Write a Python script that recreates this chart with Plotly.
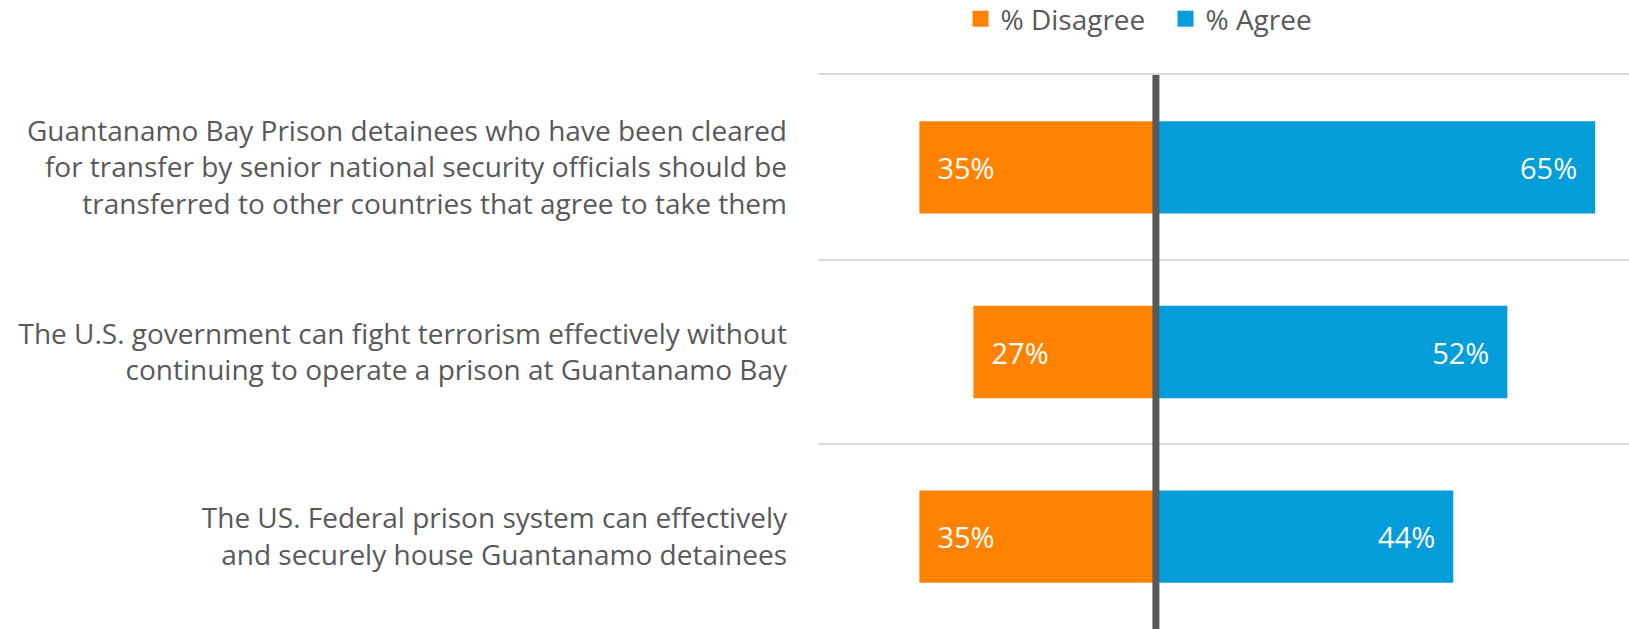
import plotly.graph_objects as go

categories = [
    "Guantanamo Bay Prison detainees who have been cleared<br>for transfer by senior national security officials should be<br>transferred to other countries that agree to take them",
    "The U.S. government can fight terrorism effectively without<br>continuing to operate a prison at Guantanamo Bay",
    "The US. Federal prison system can effectively<br>and securely house Guantanamo detainees",
]
disagree = [35, 27, 35]
agree = [65, 52, 44]

ORANGE = "#FF8300"
BLUE = "#039ED9"
GRAY = "#595959"
FONT = "Open Sans"
NB = "\u00a0"

pos = list(range(len(categories)))

fig = go.Figure()
fig.add_trace(go.Bar(
    y=pos, x=[-v for v in disagree], orientation="h", width=0.5,
    marker=dict(color=ORANGE, line=dict(width=0)),
    text=[NB * 2 + f"{v}%" for v in disagree], textposition="inside",
    insidetextanchor="end", textfont=dict(color="white", size=29, family=FONT),
    showlegend=False, hoverinfo="skip",
))
fig.add_trace(go.Bar(
    y=pos, x=agree, orientation="h", width=0.5,
    marker=dict(color=BLUE, line=dict(width=0)),
    text=[f"{v}%" + NB * 2 for v in agree], textposition="inside",
    insidetextanchor="end", textfont=dict(color="white", size=29, family=FONT),
    showlegend=False, hoverinfo="skip",
))
# legend entries
for name, col in [("% Disagree", ORANGE), ("% Agree", BLUE)]:
    fig.add_trace(go.Scatter(x=[None], y=[None], mode="markers", name=name,
                             marker=dict(symbol="square", size=16, color=col)))

fig.add_shape(type="line", xref="x", yref="paper", x0=0, x1=0, y0=0, y1=1,
              line=dict(color=GRAY, width=7), layer="above")

fig.update_layout(
    width=1629, height=629,
    margin=dict(l=818, r=0, t=75, b=0, autoexpand=False),
    barmode="relative",
    plot_bgcolor="white", paper_bgcolor="white",
    font=dict(family=FONT, color=GRAY, size=28),
    xaxis=dict(range=[-50, 70], showgrid=False, zeroline=False, side="top",
               showline=True, linecolor="#D9D9D9", linewidth=2,
               showticklabels=False, ticks="", fixedrange=True, automargin=False),
    yaxis=dict(range=[len(categories) - 0.5, -0.5], tickvals=pos, ticktext=categories,
               showgrid=False, zeroline=False, ticks="", ticklabelstandoff=30,
               automargin=False,
               tickfont=dict(size=28, color=GRAY, family=FONT),
               minor=dict(tickvals=[p + 0.5 for p in pos[:-1]], showgrid=True,
                          gridcolor="#D9D9D9", gridwidth=2, ticks="")),
    legend=dict(orientation="h", x=0.1757, xanchor="left", y=1.1011, yanchor="middle",
                yref="paper", itemsizing="trace", entrywidth=160,
                font=dict(size=28, color=GRAY, family=FONT)),
)

fig.write_html("out.html", config={"displayModeBar": False},
               post_script="document.body.style.margin='0';")
